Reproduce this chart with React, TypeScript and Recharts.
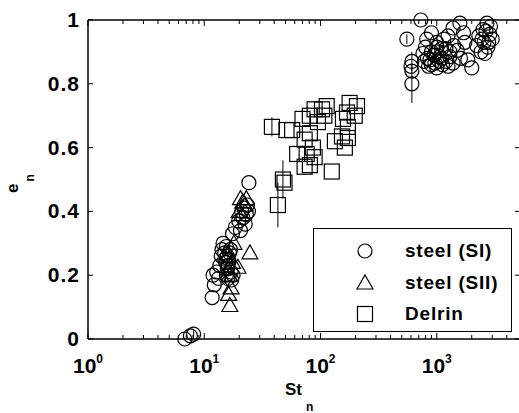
import React from 'react';
import { ScatterChart, Scatter, XAxis, YAxis, ErrorBar, ReferenceLine, Legend } from 'recharts';

const FONT = '"Liberation Sans", Arial, Helvetica, sans-serif';

// [St_n, e_n, error bar half-length]
const steelSI: number[][] = [
  [6.8, 0.0], [7.6, 0.01], [8.1, 0.015, 0.015],
  [11.7, 0.13], [12.2, 0.17], [11.9, 0.2], [12.8, 0.21], [13.3, 0.19], [13.6, 0.23],
  [14.0, 0.26], [14.5, 0.3], [14.2, 0.28], [15.0, 0.27], [15.3, 0.24], [15.8, 0.22],
  [16.2, 0.25], [15.5, 0.2], [16.0, 0.19], [17.2, 0.185], [17.7, 0.2], [16.8, 0.28],
  [17.5, 0.33], [18.5, 0.35], [19.8, 0.37], [20.5, 0.34], [21.5, 0.38], [22.0, 0.41],
  [23.0, 0.39], [23.5, 0.42], [22.5, 0.36], [24.2, 0.49], [21.0, 0.4], [24.0, 0.4],
  [15.0, 0.25], [16.5, 0.27], [15.5, 0.29], [16.0, 0.23], [17.0, 0.21], [15.8, 0.26],
  [553, 0.94, 0.015], [611, 0.87, 0.03], [611, 0.84], [611, 0.8, 0.06], [600, 0.855],
  [730, 1.0], [900, 0.96], [820, 0.94], [1000, 0.93], [1580, 0.99], [1380, 0.975],
  [1250, 0.95], [1745, 0.93], [1500, 0.905], [1850, 0.875], [2000, 0.85], [1600, 0.88],
  [2700, 0.99], [2500, 0.97], [2860, 0.955], [2550, 0.93], [2750, 0.915], [2400, 0.9],
  [2600, 0.895], [760, 0.895], [873, 0.875], [963, 0.865], [1063, 0.885], [1120, 0.86],
  [1296, 0.885], [1200, 0.91], [1000, 0.915], [800, 0.915], [1100, 0.91], [1380, 0.865],
  [900, 0.9], [1050, 0.87], [2300, 0.95], [2900, 0.98], [2200, 0.92], [3000, 0.94],
  [2650, 0.965], [1150, 0.94], [1400, 0.92], [1700, 0.96], [850, 0.855], [1000, 0.85],
  [1250, 0.855], [830, 0.88], [950, 0.89], [1100, 0.88], [1200, 0.87], [1300, 0.9],
  [900, 0.86], [1000, 0.9], [780, 0.87], [2450, 0.94], [2800, 0.93],
];

const steelSII: number[][] = [
  [16.6, 0.105], [16.2, 0.14], [17.0, 0.16], [16.0, 0.22], [17.5, 0.24], [19.5, 0.225],
  [24.7, 0.27], [20.5, 0.44], [21.5, 0.43], [22.5, 0.42], [20.0, 0.4], [23.0, 0.44],
  [21.0, 0.39], [18.0, 0.3], [16.5, 0.2], [15.8, 0.26],
];

const delrin: number[][] = [
  [38.2, 0.665, 0.03], [51, 0.655], [57, 0.655], [70, 0.69], [103, 0.72], [113, 0.73],
  [89, 0.72], [81, 0.7], [95, 0.68], [108, 0.7], [178, 0.74], [206, 0.73], [169, 0.71],
  [156, 0.69], [197, 0.7], [172, 0.665], [153, 0.635], [133, 0.62], [172, 0.63],
  [162, 0.6], [81, 0.645], [73, 0.625], [86, 0.6], [63, 0.58], [76, 0.58], [89, 0.57],
  [73, 0.54], [81, 0.545], [125, 0.525], [47.5, 0.5, 0.06], [49, 0.49], [43, 0.42, 0.07],
];

const X_TICKS = [
  1, 2, 3, 4, 5, 6, 7, 8, 9,
  10, 20, 30, 40, 50, 60, 70, 80, 90,
  100, 200, 300, 400, 500, 600, 700, 800, 900,
  1000, 2000, 3000, 4000,
];
const Y_TICKS = [0, 0.2, 0.4, 0.6, 0.8, 1];
const Y_LABELS = ['0', '0.2', '0.4', '0.6', '0.8', '1'];

const SERIES = [
  { name: 'steel (SI)', points: steelSI, marker: 'circle' },
  { name: 'steel (SII)', points: steelSII, marker: 'triangle' },
  { name: 'Delrin', points: delrin, marker: 'square' },
];

const PLOT_W = 432;
const PLOT_H = 319;

const toRows = (pts: number[][]) => pts.map(([x, y, err = 0]) => ({ x, y, err }));

const Marker = ({ kind, cx, cy }: { kind: string; cx: number; cy: number }) => {
  if (kind === 'circle') return <circle cx={cx} cy={cy} r={7} fill="none" stroke="#000" strokeWidth={1.2} />;
  if (kind === 'square') return <rect x={cx - 7.5} y={cy - 7.5} width={15} height={15} fill="none" stroke="#000" strokeWidth={1.2} />;
  return <polygon points={`${cx},${cy - 8} ${cx + 8},${cy + 6} ${cx - 8},${cy + 6}`} fill="none" stroke="#000" strokeWidth={1.2} />;
};

const XTick = (props: any) => {
  const { x, y, payload } = props;
  const exp = Math.log10(payload.value);
  const major = Math.abs(exp - Math.round(exp)) < 1e-6;
  const len = major ? 6 : 4;
  return (
    <g>
      <line x1={x} y1={y} x2={x} y2={y - len} stroke="#000" />
      <line x1={x} y1={y - PLOT_H} x2={x} y2={y - PLOT_H + len} stroke="#000" />
      {major && (
        <text x={x} y={y + 34} textAnchor="middle" fontFamily={FONT} fontWeight="bold" fontSize={21} fill="#000">
          <tspan>10</tspan>
          <tspan dy={-10} fontSize={12}>{Math.round(exp)}</tspan>
        </text>
      )}
    </g>
  );
};

const YTick = (props: any) => {
  const { x, y, payload } = props;
  const i = Y_TICKS.indexOf(payload.value);
  return (
    <g>
      <line x1={x} y1={y} x2={x + 5} y2={y} stroke="#000" />
      <line x1={x + PLOT_W} y1={y} x2={x + PLOT_W - 5} y2={y} stroke="#000" />
      <text x={x - 8} y={y + 7} textAnchor="end" fontFamily={FONT} fontWeight="bold" fontSize={21} letterSpacing={1} fill="#000">
        {Y_LABELS[i]}
      </text>
    </g>
  );
};

const LegendBox = () => (
  <div
    style={{
      position: 'relative', width: 199, height: 104, boxSizing: 'border-box',
      border: '1.5px solid #000', background: '#fff',
      fontFamily: FONT, fontWeight: 'bold', fontSize: 19, color: '#000',
    }}
  >
    {SERIES.map((s, i) => (
      <div key={s.name} style={{ position: 'absolute', left: 0, top: 8 + i * 31.5, height: 28, width: '100%' }}>
        <svg width={30} height={28} style={{ position: 'absolute', left: 36, top: 0 }}>
          <Marker kind={s.marker} cx={15} cy={14} />
        </svg>
        <span style={{ position: 'absolute', left: 91, top: 2, lineHeight: '24px', letterSpacing: 0.8 }}>{s.name}</span>
      </div>
    ))}
  </div>
);

export default function App() {
  return (
    <div style={{ position: 'absolute', left: 0, top: 0, width: 519, height: 413, overflow: 'hidden', background: '#fff' }}>
      <ScatterChart width={522} height={413} margin={{ top: 20, right: 2, bottom: 73, left: 87 }}>
        <XAxis
          type="number"
          dataKey="x"
          scale="log"
          domain={[1, 5200]}
          ticks={X_TICKS}
          interval={0}
          height={1}
          tickSize={0}
          tickMargin={0}
          tickLine={false}
          tick={<XTick />}
          axisLine={{ stroke: '#000', strokeWidth: 1.5 }}
        />
        <YAxis
          type="number"
          dataKey="y"
          domain={[0, 1]}
          ticks={Y_TICKS}
          interval={0}
          width={1}
          tickSize={0}
          tickMargin={0}
          tickLine={false}
          tick={<YTick />}
          axisLine={{ stroke: '#000', strokeWidth: 1.5 }}
        />
        <ReferenceLine y={1} stroke="#000" strokeWidth={1.5} />
        {SERIES.map((s) => (
          <Scatter
            key={s.name}
            name={s.name}
            data={toRows(s.points)}
            isAnimationActive={false}
            shape={(p: any) => <Marker kind={s.marker} cx={p.cx} cy={p.cy} />}
          >
            <ErrorBar dataKey="err" direction="y" width={0} stroke="#000" strokeWidth={1} />
          </Scatter>
        ))}
        <Legend
          layout="horizontal"
          verticalAlign="middle"
          align="center"
          content={() => <LegendBox />}
          wrapperStyle={{ left: 313, top: 228, width: 199, height: 104 }}
        />
      </ScatterChart>
      <svg width={519} height={413} style={{ position: 'absolute', left: 0, top: 0, pointerEvents: 'none' }}>
        <text transform="translate(18,193) rotate(-90)" fontFamily={FONT} fontWeight="bold" fontSize={17} fill="#000">
          e<tspan dx={2} dy={16} fontSize={12}>n</tspan>
        </text>
        <text x={285} y={395} fontFamily={FONT} fontWeight="bold" fontSize={17} fill="#000">
          St<tspan dx={4} dy={16} fontSize={12}>n</tspan>
        </text>
      </svg>
    </div>
  );
}
